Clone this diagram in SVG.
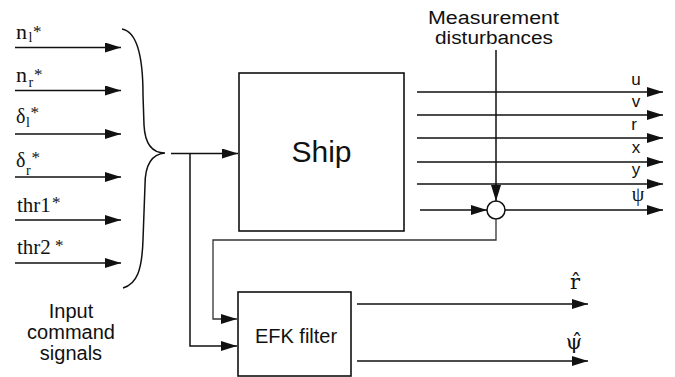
<svg xmlns="http://www.w3.org/2000/svg" width="675" height="377" viewBox="0 0 675 377">
<style>
.ln{stroke:#111;stroke-width:1.5;fill:none}
.fb{stroke:#333;stroke-width:1.3;fill:none}
.box{stroke:#111;stroke-width:1.6;fill:#fff}
.sans{font-family:"Liberation Sans",Arial,sans-serif;fill:#111}
.serif{font-family:"Liberation Serif","Times New Roman",serif;fill:#111}
.hat{font-family:"DejaVu Serif","Liberation Serif",serif;fill:#111}
.lab{font-size:21px}
.sub{font-size:14px}
.star{font-size:17px}
.out{font-size:17px}
</style>
<defs>
<marker id="ah" markerUnits="userSpaceOnUse" markerWidth="16" markerHeight="10" refX="16" refY="5" orient="auto">
<path d="M0,0 L16,5 L0,10 z" fill="#111"/>
</marker>
</defs>
<rect width="675" height="377" fill="#fff"/>

<g id="inputs">
<text class="serif" x="16" y="39"><tspan font-size="22">n</tspan><tspan class="sub" x="28.5" y="42">l</tspan><tspan class="star" x="33" y="37">*</tspan></text>
<text class="serif" x="16" y="82"><tspan font-size="22">n</tspan><tspan class="sub" x="28.5" y="87">r</tspan><tspan class="star" x="34" y="80">*</tspan></text>
<text class="serif" x="16" y="123"><tspan font-size="20">δ</tspan><tspan class="sub" x="26" y="127">l</tspan><tspan class="star" x="30.5" y="118">*</tspan></text>
<text class="serif" x="16" y="167"><tspan font-size="20">δ</tspan><tspan class="sub" x="26" y="175">r</tspan><tspan class="star" x="31.5" y="163">*</tspan></text>
<text class="serif lab" x="17" y="212">thr1<tspan class="star" x="52" y="208">*</tspan></text>
<text class="serif lab" x="17" y="254">thr2<tspan class="star" x="55" y="251">*</tspan></text>
<path class="ln" d="M122,29 C139,32 143,62 143,95 L144,125 C145,145 153,153 165,153 C153,154 145,163 145,185 L143,240 C142,270 137,284 123,288"/>
<text class="sans" font-size="20" text-anchor="middle"><tspan x="71" y="318">Input</tspan><tspan x="71" y="339">command</tspan><tspan x="71" y="360">signals</tspan></text>
</g>

<g id="ship">
<rect class="box" x="239" y="73" width="165" height="158"/>
<text class="sans" font-size="30" x="321.5" y="162" text-anchor="middle">Ship</text>
</g>

<g id="efk">
<rect class="box" x="238" y="292" width="113" height="84"/>
<text class="sans" font-size="20" x="296" y="343" text-anchor="middle">EFK filter</text>
</g>

<g id="sum">
<circle cx="496" cy="210" r="9" fill="#fff" stroke="#111" stroke-width="1.5"/>
</g>

<g id="disturbance-label">
<text class="sans" font-size="18" x="428" y="24" textLength="131" lengthAdjust="spacingAndGlyphs">Measurement</text>
<text class="sans" font-size="18" x="435" y="44" textLength="118" lengthAdjust="spacingAndGlyphs">disturbances</text>
</g>

<g id="connectors">
<line class="ln" x1="15" y1="47.5" x2="121" y2="47.5" marker-end="url(#ah)"/>
<line class="ln" x1="15" y1="90.5" x2="121" y2="90.5" marker-end="url(#ah)"/>
<line class="ln" x1="15" y1="134" x2="121" y2="134" marker-end="url(#ah)"/>
<line class="ln" x1="15" y1="177" x2="121" y2="177" marker-end="url(#ah)"/>
<line class="ln" x1="15" y1="220" x2="121" y2="220" marker-end="url(#ah)"/>
<line class="ln" x1="15" y1="263" x2="121" y2="263" marker-end="url(#ah)"/>

<line class="ln" x1="171" y1="153.5" x2="238" y2="153.5" marker-end="url(#ah)"/>
<polyline class="ln" points="190,153.5 190,346 237,346" marker-end="url(#ah)"/>

<line class="ln" x1="417" y1="92" x2="663" y2="92" marker-end="url(#ah)"/>
<line class="ln" x1="417" y1="115" x2="663" y2="115" marker-end="url(#ah)"/>
<line class="ln" x1="417" y1="138" x2="663" y2="138" marker-end="url(#ah)"/>
<line class="ln" x1="417" y1="162" x2="663" y2="162" marker-end="url(#ah)"/>
<line class="ln" x1="417" y1="184" x2="663" y2="184" marker-end="url(#ah)"/>
<line class="ln" x1="420" y1="210" x2="487" y2="210" marker-end="url(#ah)"/>
<line class="ln" x1="505" y1="210" x2="663" y2="210" marker-end="url(#ah)"/>
<line class="ln" x1="496" y1="50" x2="496" y2="201" marker-end="url(#ah)"/>

<polyline class="fb" points="496,219 496,240 213,240 213,319 237,319" marker-end="url(#ah)"/>

<line class="ln" x1="357" y1="304" x2="588" y2="304" marker-end="url(#ah)"/>
<line class="ln" x1="357" y1="361" x2="588" y2="361" marker-end="url(#ah)"/>
</g>

<g id="output-labels">
<text class="sans out" x="636" y="85" text-anchor="middle">u</text>
<text class="sans out" x="636" y="107" text-anchor="middle">v</text>
<text class="sans out" x="634" y="130" text-anchor="middle">r</text>
<text class="sans out" x="636" y="153" text-anchor="middle">x</text>
<text class="sans out" x="636" y="175" text-anchor="middle">y</text>
<text class="serif" font-size="20" x="638" y="201" text-anchor="middle">ψ</text>
<text class="hat" font-size="21" x="575" y="289" text-anchor="middle">r̂</text>
<text class="hat" font-size="21" x="574" y="349" text-anchor="middle">ψ̂</text>
</g>
</svg>
